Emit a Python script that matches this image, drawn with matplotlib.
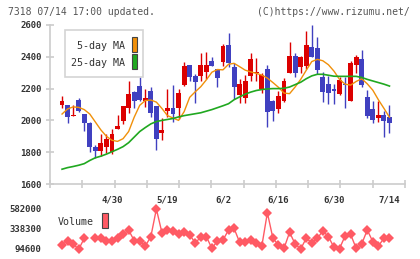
import numpy as np
import matplotlib
matplotlib.use("Agg")
import matplotlib.pyplot as plt
from matplotlib.patches import Rectangle

nan = np.nan

# daily candles (oldest first)
opens = [2075, 2100, 2097, 2025, 2128, 2040, 1985, 1834, 1810, 1835,
         1800, 1948, 1998, 2076, 2180, 2216, 2120, 2187, 2091, 1923,
         2062, 2075, 2076, 2220, 2348, 2279, 2282, 2307, 2373, 2321,
         2369, 2474, 2338, 2160, 2143, 2279, 2297, 2197, 2323, 2122,
         2070, 2122, 2296, 2405, 2333, 2344, 2460, 2453, 2271, 2229,
         2197, 2166, 2222, 2122, 2348, 2386, 2145, 2071, 2017, 2032,
         2020]
highs = [2080, 2155, 2100, 2097, 2143, 2040, 1990, 1845, 1914, 1914,
         1948, 2034, 2092, 2245, 2183, 2271, 2195, 2212, 2092, 2018,
         2197, 2223, 2197, 2367, 2350, 2292, 2422, 2428, 2397, 2325,
         2480, 2548, 2359, 2259, 2286, 2426, 2395, 2296, 2348, 2128,
         2185, 2269, 2493, 2422, 2405, 2562, 2600, 2523, 2302, 2279,
         2229, 2271, 2275, 2374, 2411, 2443, 2191, 2122, 2122, 2059,
         2097]
lows = [2075, 2080, 1982, 2025, 2055, 1935, 1803, 1762, 1775, 1795,
        1790, 1945, 1975, 2045, 2080, 2125, 2082, 2024, 1814, 1877,
        2024, 1987, 2007, 2218, 2248, 2111, 2250, 2259, 2340, 2212,
        2342, 2338, 2135, 2108, 2108, 2248, 2248, 2175, 1956, 1999,
        2048, 2118, 2295, 2271, 2296, 2321, 2398, 2292, 2118, 2101,
        2101, 2162, 2081, 2120, 2300, 2212, 2018, 1985, 1992, 1898,
        1919]
closes = [2080, 2125, 2020, 2032, 2062, 1982, 1834, 1808, 1860, 1880,
          1914, 1962, 2090, 2168, 2124, 2128, 2143, 2048, 1881, 1940,
          2075, 2040, 2170, 2342, 2275, 2243, 2348, 2348, 2345, 2269,
          2468, 2363, 2212, 2227, 2248, 2386, 2307, 2286, 2055, 2061,
          2153, 2248, 2405, 2300, 2401, 2474, 2401, 2317, 2180, 2170,
          2182, 2254, 2218, 2364, 2397, 2223, 2028, 2003, 2032, 1999,
          1985]

ma5 = [nan, 2040, 2072, 2085, 2082, 2068, 2040, 1990, 1940, 1900,
       1875, 1868, 1885, 1930, 2020, 2095, 2125, 2128, 2115, 2075,
       2030, 2015, 2000, 2055, 2145, 2180, 2212, 2255, 2303, 2320,
       2318, 2353, 2359, 2338, 2316, 2305, 2296, 2285, 2266, 2238,
       2208, 2172, 2168, 2210, 2258, 2315, 2370, 2384, 2375, 2350,
       2310, 2258, 2228, 2222, 2245, 2262, 2230, 2190, 2130, 2076,
       2020]
ma25 = [nan, 1693, 1703, 1710, 1718, 1728, 1748, 1765, 1775, 1788,
        1803, 1818, 1835, 1860, 1895, 1930, 1955, 1978, 1993, 2000,
        2006, 2012, 2022, 2030, 2036, 2042, 2048, 2058, 2068, 2080,
        2092, 2105, 2130, 2148, 2165, 2178, 2188, 2194, 2198, 2200,
        2200, 2202, 2210, 2225, 2240, 2262, 2280, 2290, 2290, 2284,
        2278, 2277, 2277, 2277, 2277, 2270, 2258, 2248, 2238, 2228,
        2216]

volume = [nan, 143000, 196000, 156000, 91000, 225000, nan, 225000, 225000, 196000,
          196000, 225000, 273000, 326000, 196000, 196000, 131000, 245000, 582000, 293000,
          326000, 318000, 273000, 306000, 265000, 171000, 237000, 245000, 103000, 192000,
          204000, 326000, 346000, 176000, 176000, 204000, 164000, 131000, 537000, 225000,
          143000, 103000, 298000, 156000, 94600, 225000, 171000, 225000, 314000, 245000,
          115000, 100000, 253000, 273000, 103000, 156000, 326000, 184000, 131000, 225000,
          225000]

date_idx = [10, 20, 30, 40, 50, 60]
date_labels = ["4/30", "5/19", "6/2", "6/16", "6/30", "7/14"]
vol_ticks = [94600, 338300, 582000]

W, H = 420, 259
def fx(x): return x / W
def fy(y): return 1 - y / H

RED = "#dc0000"
BLUE = "#4040c0"
ORANGE = "#f0900a"
GREEN = "#20a820"
VOLC = "#ff5a64"
AXC = "#cccccc"
TXT = "#333333"
MONO = "DejaVu Sans Mono"

fig = plt.figure(figsize=(4.2, 2.59), dpi=100)
ax = fig.add_axes([fx(50), fy(184), fx(405) - fx(50), fy(25) - fy(184)])

x = np.arange(len(closes))
o = np.array(opens); c = np.array(closes)
cols = [RED if cc >= oo else BLUE for oo, cc in zip(o, c)]
ax.vlines(x, lows, highs, colors=cols, linewidth=1.0, zorder=2)
body = np.where(np.abs(c - o) < 6, 6, c - o)
ax.bar(x, body, bottom=o, width=0.88, color=cols, linewidth=0, zorder=3)
ax.plot(x, ma5, color=ORANGE, lw=1.0, zorder=4)
ax.plot(x, ma25, color=GREEN, lw=1.2, zorder=4)

ax.set_ylim(1600, 2600)
xl = (-1.17, 62.8)
ax.set_xlim(*xl)
ax.set_yticks(np.arange(1600, 2601, 200))
ax.set_xticks(np.linspace(xl[0], xl[1], 12))
ax.set_xticklabels([])
ax.set_xticks(date_idx, minor=True)
ax.set_xticklabels(date_labels, minor=True)
ax.tick_params(axis="both", which="major", direction="inout", length=6, width=1.2, color=AXC)
ax.tick_params(axis="y", labelsize=6.5, labelcolor=TXT, pad=3)
ax.tick_params(axis="x", which="minor", length=0, pad=8, labelsize=6.5, labelcolor=TXT)
for lab in ax.get_yticklabels() + ax.get_xticklabels(minor=True):
    lab.set_fontfamily(MONO)
    lab.set_fontweight("bold")
for s in ["top", "right"]:
    ax.spines[s].set_visible(False)
for s in ["left", "bottom"]:
    ax.spines[s].set_color(AXC)
    ax.spines[s].set_linewidth(1.2)

# legend box for moving averages
fig.add_artist(Rectangle((fx(65), fy(77)), fx(143) - fx(65), fy(30) - fy(77),
                         transform=fig.transFigure, facecolor="white",
                         edgecolor="#d4d4d4", lw=1.2, zorder=5))
fig.add_artist(Rectangle((fx(132), fy(52)), fx(137) - fx(132), fy(37) - fy(52),
                         transform=fig.transFigure, facecolor=ORANGE,
                         edgecolor="#444444", lw=0.8, zorder=6))
fig.add_artist(Rectangle((fx(132), fy(69)), fx(137) - fx(132), fy(54) - fy(69),
                         transform=fig.transFigure, facecolor=GREEN,
                         edgecolor="#444444", lw=0.8, zorder=6))
fig.text(fx(125), fy(46), "5-day MA", ha="right", va="center", fontsize=7.2,
         family=MONO, color=TXT, zorder=7)
fig.text(fx(125), fy(63), "25-day MA", ha="right", va="center", fontsize=7.2,
         family=MONO, color=TXT, zorder=7)

# volume panel
vax = fig.add_axes([fx(50), fy(249), fx(405) - fx(50), fy(209) - fy(249)])
vax.plot(x, volume, color=VOLC, lw=1.0, marker="D", markersize=4.6,
         markeredgewidth=0, clip_on=False)
vax.set_xlim(*xl)
vax.set_ylim(vol_ticks[0], vol_ticks[-1])
vax.set_yticks(vol_ticks)
vax.set_yticklabels([str(v) for v in vol_ticks])
vax.set_xticks([])
vax.tick_params(axis="y", length=0, pad=6, labelsize=6.5, labelcolor=TXT)
for lab in vax.get_yticklabels():
    lab.set_fontfamily(MONO)
    lab.set_fontweight("bold")
for s in vax.spines.values():
    s.set_visible(False)
vax.patch.set_alpha(0)
fig.text(fx(58), fy(222), "Volume", ha="left", va="center", fontsize=7.2,
         family=MONO, color=TXT)
fig.add_artist(Rectangle((fx(102), fy(228)), fx(108) - fx(102), fy(213) - fy(228),
                         transform=fig.transFigure, facecolor=VOLC,
                         edgecolor="#444444", lw=0.8))

fig.text(fx(8), fy(12), "7318 07/14 17:00 updated.", ha="left", va="center",
         fontsize=7.0, family=MONO, color="#555555")
fig.text(fx(410), fy(12), "(C)https://www.rizumu.net/", ha="right", va="center",
         fontsize=7.0, family=MONO, color="#555555")

fig.savefig("out.png", dpi=100)
